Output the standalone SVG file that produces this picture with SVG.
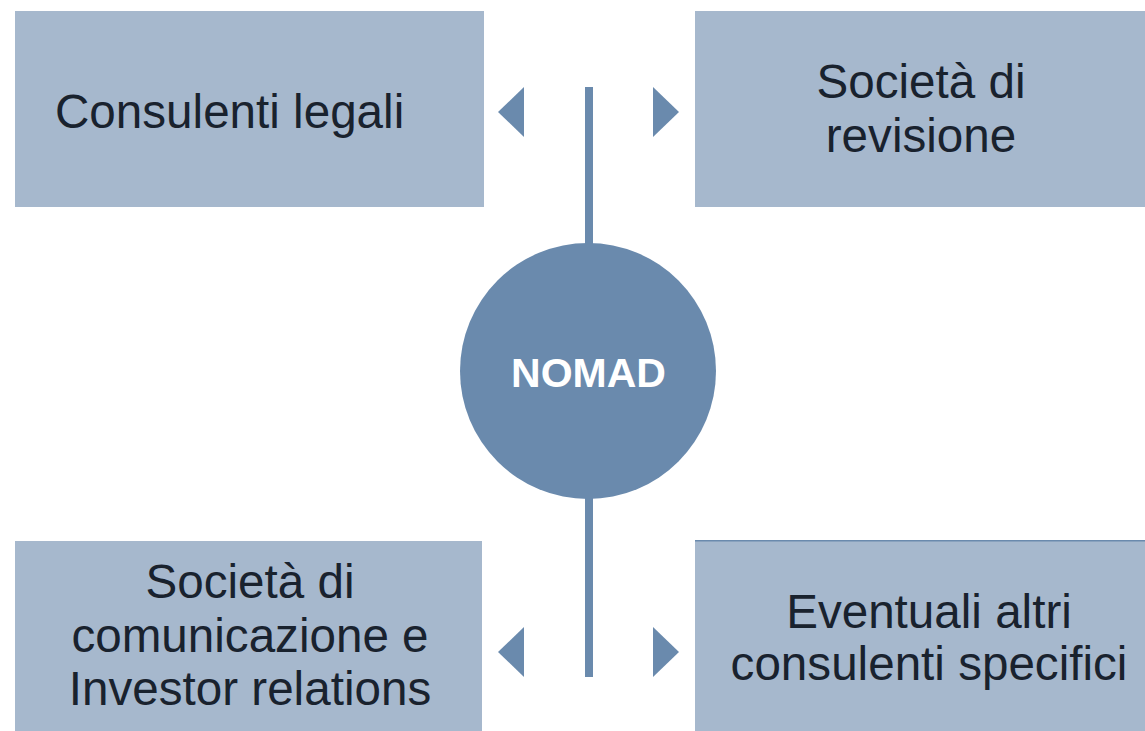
<svg xmlns="http://www.w3.org/2000/svg" width="1145" height="731" viewBox="0 0 1145 731">
<style>
.box{fill:#a6b8cd}
.lbl{font-family:"Liberation Sans",Arial,sans-serif;font-size:47.6px;fill:#19222e;text-anchor:middle}
.dk{fill:#6a8aad}
</style>
<rect width="1145" height="731" fill="#ffffff"/>
<g id="connectors">
<rect class="dk" x="585" y="87" width="8" height="160"/>
<rect class="dk" x="585" y="495" width="8" height="182"/>
<polygon class="dk" points="498,112 524,87 524,137"/>
<polygon class="dk" points="679,112 653,87 653,137"/>
<polygon class="dk" points="498,652 524,627 524,677"/>
<polygon class="dk" points="679,652 653,627 653,677"/>
</g>
<g id="consulenti-legali">
<rect class="box" x="15" y="11" width="469" height="196"/>
<text class="lbl" x="55" y="128" style="text-anchor:start">Consulenti legali</text>
</g>
<g id="societa-revisione">
<rect class="box" x="695" y="11" width="450" height="196"/>
<text class="lbl" x="921" y="98">Società di</text>
<text class="lbl" x="921" y="152">revisione</text>
</g>
<g id="societa-comunicazione">
<rect class="box" x="15" y="541" width="467" height="190"/>
<text class="lbl" x="250" y="598">Società di</text>
<text class="lbl" x="250" y="652">comunicazione e</text>
<text class="lbl" x="250" y="705">Investor relations</text>
</g>
<g id="altri-consulenti">
<rect class="box" x="695" y="541" width="450" height="190"/>
<rect class="dk" x="695" y="540" width="450" height="1.5"/>
<text class="lbl" x="929" y="628">Eventuali altri</text>
<text class="lbl" x="929" y="680">consulenti specifici</text>
</g>
<g id="nomad">
<circle class="dk" cx="588" cy="371" r="128"/>
<text x="588.5" y="387" style="font-family:'Liberation Sans',Arial,sans-serif;font-size:41px;font-weight:bold;fill:#ffffff;text-anchor:middle">NOMAD</text>
</g>
</svg>
